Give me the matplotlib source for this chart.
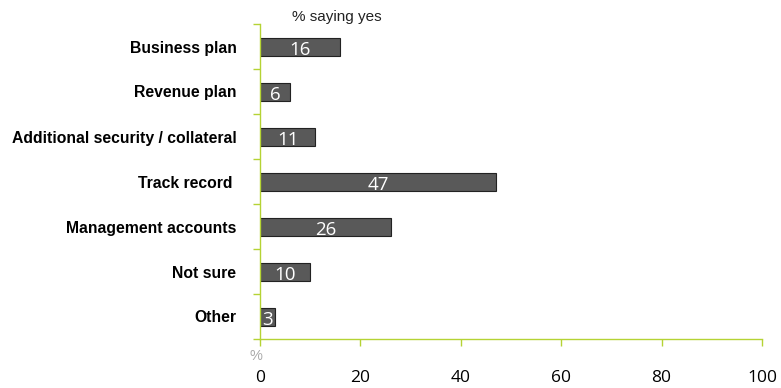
import matplotlib
matplotlib.use("Agg")
import matplotlib.pyplot as plt

categories = ["Business plan", "Revenue plan", "Additional security / collateral",
              "Track record ", "Management accounts", "Not sure", "Other"]
values = [16, 6, 11, 47, 26, 10, 3]
xticks = [0, 20, 40, 60, 80, 100]

green = "#b5d334"
fig = plt.figure(figsize=(7.81, 3.88), dpi=100)
ax = fig.add_axes([260/781, 1-339/388, 502/781, 315/388])

n = len(categories)
ypos = list(range(n))
ax.barh(ypos, values, height=0.4, color="#595959", edgecolor="#222222", linewidth=0.8)
ax.set_ylim(n - 0.5, -0.5)
ax.set_xlim(0, 100)

for y, v in zip(ypos, values):
    ax.text(v / 2, y + 0.07, str(v), ha="center", va="center", color="white",
            fontsize=13.5, family="Open Sans")

ax.set_yticks([i - 0.5 for i in range(n + 1)])
ax.set_yticklabels([])
ax.set_yticks(ypos, minor=True)
ax.set_yticklabels(categories, minor=True, fontweight="bold", fontsize=11.3,
                   family="Liberation Sans")
ax.tick_params(axis="y", which="minor", length=0, pad=17)
ax.tick_params(axis="y", which="major", length=5, color=green, width=1)

ax.set_xticks(xticks)
ax.set_xticklabels([str(t) for t in xticks], fontsize=12.5, family="Open Sans")
ax.tick_params(axis="x", length=5, color=green, width=1, pad=17)

for s in ["top", "right"]:
    ax.spines[s].set_visible(False)
for s in ["left", "bottom"]:
    ax.spines[s].set_color(green)
    ax.spines[s].set_linewidth(1)

fig.text(292/781, 1-17/388, "% saying yes", ha="left", va="center", fontsize=11,
         family="Liberation Sans", color="#222222")
fig.text(256/781, 1-356/388, "%", ha="center", va="center", fontsize=10.5,
         family="Liberation Sans", color="#aaaaaa")

fig.savefig("out.png", dpi=100)
